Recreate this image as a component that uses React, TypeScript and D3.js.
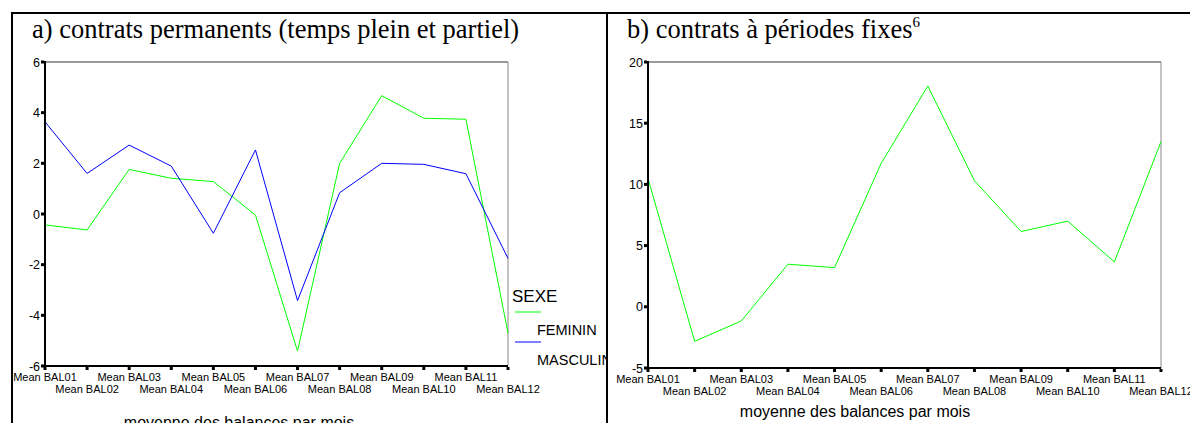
import React from "react";
import * as d3 from "d3";

const categories = ["Mean BAL01","Mean BAL02","Mean BAL03","Mean BAL04","Mean BAL05","Mean BAL06","Mean BAL07","Mean BAL08","Mean BAL09","Mean BAL10","Mean BAL11","Mean BAL12"];
const femininA = [-0.43, -0.63, 1.76, 1.41, 1.28, -0.04, -5.41, 2.0, 4.67, 3.78, 3.74, -4.7];
const masculinA = [3.64, 1.6, 2.72, 1.89, -0.76, 2.53, -3.42, 0.84, 2.0, 1.96, 1.59, -1.75];
const femininB = [10.49, -2.82, -1.16, 3.48, 3.2, 11.72, 18.04, 10.3, 6.15, 7.0, 3.67, 13.49];
const ticksA = [-6, -4, -2, 0, 2, 4, 6];
const ticksB = [-5, 0, 5, 10, 15, 20];
const legendItems = ["FEMININ", "MASCULIN"];
const GREEN = "#00ff00";
const BLUE = "#0000ff";
const SANS = "Arial, 'Liberation Sans', sans-serif";
const SERIF = "'Times New Roman', 'Liberation Serif', serif";

type PanelProps = {
  x0: number; x1: number; y0: number; y1: number;
  domain: [number, number]; ticks: number[];
  series: { values: number[]; color: string }[];
  axisTitleX: number; axisTitleY: number;
};

function Panel({ x0, x1, y0, y1, domain, ticks, series, axisTitleX, axisTitleY }: PanelProps) {
  const x = d3.scalePoint<string>().domain(categories).range([x0, x1]);
  const y = d3.scaleLinear().domain(domain).range([y1, y0]);
  const line = d3.line<number>().x((_, i) => x(categories[i]) as number).y((v) => y(v));
  return (
    <g>
      <line x1={x0} x2={x1} y1={y0} y2={y0} stroke="#333" strokeWidth={1} />
      <line x1={x1} x2={x1} y1={y0} y2={y1} stroke="#888" strokeWidth={1} />
      {series.map((s, i) => (
        <path key={i} d={line(s.values) || ""} fill="none" stroke={s.color} strokeWidth={1} />
      ))}
      <line x1={x0} x2={x0} y1={y0 - 1} y2={y1 + 1} stroke="#000" strokeWidth={2} />
      <line x1={x0 - 1} x2={x1} y1={y1} y2={y1} stroke="#000" strokeWidth={2} />
      {ticks.map((t) => (
        <g key={t}>
          <rect x={x0 - 4} y={y(t) - 1.5} width={3} height={3} fill="#000" />
          <text x={x0 - 5} y={y(t) + 4.5} textAnchor="end" fontFamily={SANS} fontSize={12.5} fill="#000">{t}</text>
        </g>
      ))}
      {categories.map((c, i) => (
        <g key={c}>
          <rect x={(x(c) as number) - 1.5} y={y1 + 1} width={3} height={3} fill="#000" />
          <text x={x(c) as number} y={y1 + (i % 2 === 0 ? 15 : 27)} textAnchor="middle" fontFamily={SANS} fontSize={11} fill="#000">{c}</text>
        </g>
      ))}
      <text x={axisTitleX} y={axisTitleY} textAnchor="middle" fontFamily={SANS} fontSize={16} fill="#000">moyenne des balances par mois</text>
    </g>
  );
}

export default function App() {
  return (
    <svg width={1190} height={423} style={{ position: "absolute", left: 0, top: 0, background: "#fff" }}>
      <rect x={0} y={0} width={1190} height={423} fill="#fff" />
      <line x1={11} x2={1190} y1={13} y2={13} stroke="#000" strokeWidth={2} />
      <line x1={12} x2={12} y1={12} y2={423} stroke="#000" strokeWidth={2} />
      <line x1={607} x2={607} y1={12} y2={423} stroke="#000" strokeWidth={2} />
      <text x={32} y={38} fontFamily={SERIF} fontSize={26.5} fill="#000">a) contrats permanents (temps plein et partiel)</text>
      <text x={627} y={38} fontFamily={SERIF} fontSize={26.5} fill="#000">
        b) contrats à périodes fixes<tspan dy={-11} fontSize={15}>6</tspan>
      </text>
      <Panel x0={45} x1={508} y0={62} y1={366} domain={[-6, 6]} ticks={ticksA}
        series={[{ values: femininA, color: GREEN }, { values: masculinA, color: BLUE }]}
        axisTitleX={239} axisTitleY={428} />
      <Panel x0={648} x1={1161} y0={62} y1={368} domain={[-5, 20]} ticks={ticksB}
        series={[{ values: femininB, color: GREEN }]}
        axisTitleX={855} axisTitleY={417} />
      <clipPath id="legclip"><rect x={509} y={270} width={97} height={153} /></clipPath>
      <g clipPath="url(#legclip)">
        <text x={512} y={302} fontFamily={SANS} fontSize={17} fill="#000">SEXE</text>
        {legendItems.map((name, i) => (
          <g key={name}>
            <line x1={515} x2={541} y1={312 + i * 30} y2={312 + i * 30} stroke={i === 0 ? GREEN : BLUE} strokeWidth={1} />
            <text x={537} y={335 + i * 30} fontFamily={SANS} fontSize={14.5} fill="#000">{name}</text>
          </g>
        ))}
      </g>
    </svg>
  );
}
